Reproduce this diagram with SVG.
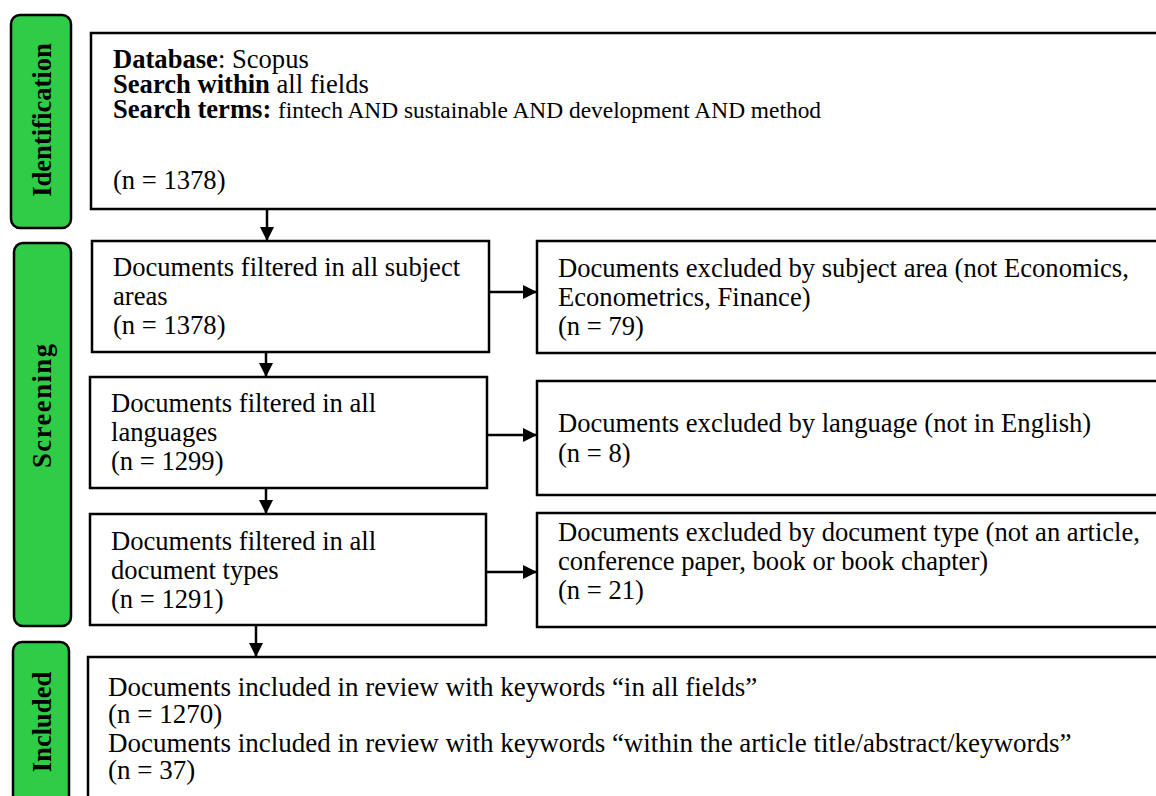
<svg xmlns="http://www.w3.org/2000/svg" width="1156" height="796" viewBox="0 0 1156 796">
<style>
.bar{fill:#2ecc47;stroke:#000;stroke-width:2.5}
.box{fill:#fff;stroke:#000;stroke-width:2.5}
.t{font-family:"Liberation Serif","Times New Roman",serif;font-size:26.6px;fill:#000}
.b{font-weight:bold}
.s{font-size:23.4px}
.big{font-size:27px}
.lab{font-family:"Liberation Serif","Times New Roman",serif;font-size:26.6px;font-weight:bold;fill:#000;text-anchor:middle}
.c{stroke:#000;stroke-width:2.5;fill:none;marker-end:url(#ah)}
</style>
<defs>
<marker id="ah" viewBox="0 0 14 14" refX="14" refY="7" markerWidth="14" markerHeight="14" markerUnits="userSpaceOnUse" orient="auto">
<path d="M0,0 L14,7 L0,14 z" fill="#000"/>
</marker>
</defs>
<rect width="1156" height="796" fill="#fff"/>
<g id="stage-identification">
<rect class="bar" x="11" y="15" width="60" height="213" rx="9"/>
<text class="lab" transform="translate(51,120) rotate(-90)">Identification</text>
</g>
<g id="stage-screening">
<rect class="bar" x="14" y="243" width="57" height="383" rx="9"/>
<text class="lab" transform="translate(51,406) rotate(-90)" textLength="124" lengthAdjust="spacing">Screening</text>
</g>
<g id="stage-included">
<rect class="bar" x="13" y="642" width="56" height="200" rx="9"/>
<text class="lab" transform="translate(51,722) rotate(-90)">Included</text>
</g>
<g id="node-search">
<rect class="box" x="91" y="33" width="1100" height="176"/>
<text class="t" x="113" y="68"><tspan class="b">Database</tspan>: Scopus</text>
<text class="t" x="113" y="93"><tspan class="b">Search within</tspan> all fields</text>
<text class="t" x="113" y="118"><tspan class="b">Search terms:</tspan> <tspan class="s">fintech AND sustainable AND development AND method</tspan></text>
<text class="t" x="113" y="189">(n = 1378)</text>
</g>
<g id="node-subject">
<rect class="box" x="92" y="241" width="397" height="111"/>
<text class="t" x="113" y="276">Documents filtered in all subject</text>
<text class="t" x="113" y="305">areas</text>
<text class="t" x="113" y="334">(n = 1378)</text>
</g>
<g id="node-excl-subject">
<rect class="box" x="537" y="241" width="640" height="112"/>
<text class="t" x="558" y="277">Documents excluded by subject area (not Economics,</text>
<text class="t" x="558" y="306">Econometrics, Finance)</text>
<text class="t" x="558" y="335">(n = 79)</text>
</g>
<g id="node-language">
<rect class="box" x="90" y="377" width="397" height="111"/>
<text class="t" x="111" y="412">Documents filtered in all</text>
<text class="t" x="111" y="441">languages</text>
<text class="t" x="111" y="470">(n = 1299)</text>
</g>
<g id="node-excl-language">
<rect class="box" x="537" y="381" width="640" height="114"/>
<text class="t" x="558" y="432">Documents excluded by language (not in English)</text>
<text class="t" x="558" y="462">(n = 8)</text>
</g>
<g id="node-type">
<rect class="box" x="90" y="514" width="396" height="111"/>
<text class="t" x="111" y="550">Documents filtered in all</text>
<text class="t" x="111" y="579">document types</text>
<text class="t" x="111" y="608">(n = 1291)</text>
</g>
<g id="node-excl-type">
<rect class="box" x="537" y="513" width="640" height="114"/>
<text class="t" x="558" y="541">Documents excluded by document type (not an article,</text>
<text class="t" x="558" y="570">conference paper, book or book chapter)</text>
<text class="t" x="558" y="599">(n = 21)</text>
</g>
<g id="node-included">
<rect class="box" x="88" y="657" width="1100" height="200"/>
<text class="t big" x="108" y="696">Documents included in review with keywords “in all fields”</text>
<text class="t big" x="108" y="723">(n = 1270)</text>
<text class="t big" x="108" y="752">Documents included in review with keywords “within the article title/abstract/keywords”</text>
<text class="t big" x="108" y="779">(n = 37)</text>
</g>
<g id="connectors">
<line class="c" x1="267" y1="209" x2="267" y2="241"/>
<line class="c" x1="266" y1="352" x2="266" y2="377"/>
<line class="c" x1="266" y1="488" x2="266" y2="514"/>
<line class="c" x1="256" y1="625" x2="256" y2="657"/>
<line class="c" x1="489" y1="292" x2="537" y2="292"/>
<line class="c" x1="487" y1="435" x2="537" y2="435"/>
<line class="c" x1="486" y1="572" x2="537" y2="572"/>
</g>
</svg>
